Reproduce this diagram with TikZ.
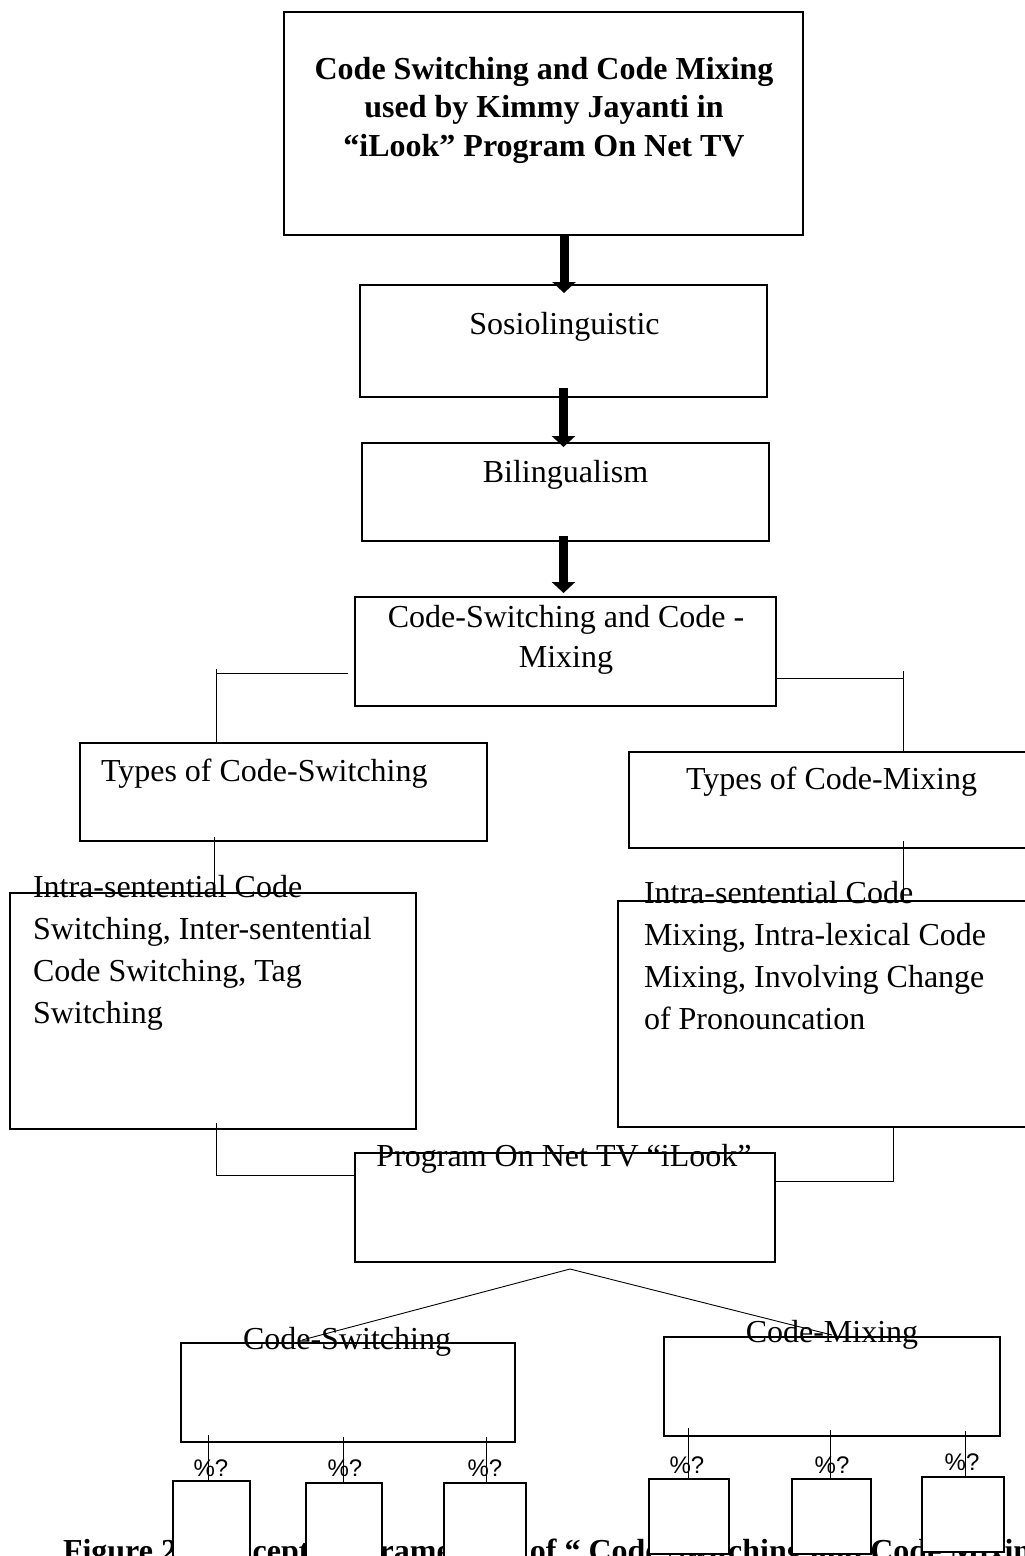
\documentclass[tikz,border=0pt]{standalone}
\usepackage{fontspec}
\setmainfont{Liberation Serif}
\newfontfamily\pctfont{Liberation Sans}
\usetikzlibrary{arrows.meta,calc}
\begin{document}
\begin{tikzpicture}[x=1pt,y=-1pt,
  box/.style={draw,line width=2.4pt,fill=white,inner sep=0pt,outer sep=0pt,rectangle},
  txt/.style={inner sep=0pt,outer sep=0pt,anchor=base,font=\fontsize{32}{38}\selectfont},
  txtw/.style={txt,anchor=base west},
  ttl/.style={inner sep=0pt,outer sep=0pt,anchor=base,font=\fontsize{32}{38}\selectfont\bfseries},
  conn/.style={line width=0.9pt},
  bigarrow/.style={line width=9pt,-{Triangle[width=23pt 0 0,length=11pt 0 0]}},
  pct/.style={inner sep=0pt,outer sep=0pt,anchor=base,font=\pctfont\fontsize{24}{24}\selectfont}
]
\useasboundingbox (0,0) rectangle (1025,1556);
\clip (0,0) rectangle (1025,1556);
\fill[white] (0,0) rectangle (1025,1556);

% caption (partly hidden, cut at the bottom edge as in the reference)
\node[ttl,anchor=base west] (caption) at (63,1561) {Figure 2. Conceptual Framework of “ Code Switching and Code Mixing};

% boxes
\node[box,minimum width=519,minimum height=223] (title) at (543.5,123.5) {};
\node[box,minimum width=407,minimum height=112] (sosio) at (563.5,341) {};
\node[box,minimum width=407,minimum height=98] (bil) at (565.5,492) {};
\node[box,minimum width=421,minimum height=109] (ccm) at (565.5,651.5) {};
\node[box,minimum width=407,minimum height=98] (tcs) at (283.5,792) {};
\node[box,minimum width=406,minimum height=96] (tcm) at (832,800) {};
\node[box,minimum width=406,minimum height=236] (lcs) at (213,1011) {};
\node[box,minimum width=417,minimum height=226] (lcm) at (826.5,1014) {};
\node[box,minimum width=420,minimum height=109] (prog) at (565,1207.5) {};
\node[box,minimum width=334,minimum height=99] (cs) at (348,1392.5) {};
\node[box,minimum width=336,minimum height=99] (cm) at (832,1386.5) {};
\node[box,minimum width=77,minimum height=89] (s1) at (211.5,1525.5) {};
\node[box,minimum width=76,minimum height=87] (s2) at (344,1526.5) {};
\node[box,minimum width=82,minimum height=87] (s3) at (485,1526.5) {};
\node[box,minimum width=80,minimum height=75] (s4) at (689,1516.5) {};
\node[box,minimum width=79,minimum height=75] (s5) at (831.5,1516.5) {};
\node[box,minimum width=82,minimum height=75] (s6) at (963,1514.5) {};

% texts
\node[ttl] (t1) at (544,79) {Code Switching and Code Mixing};
\node[ttl] (t2) at (544,117) {used by Kimmy Jayanti in};
\node[ttl] (t3) at (544,156) {“iLook” Program On Net TV};
\node[txt] (sosiotxt) at (564.5,334) {Sosiolinguistic};
\node[txt] (biltxt) at (565.5,482) {Bilingualism};
\node[txt] (ccm1) at (566,627) {Code-Switching and Code -};
\node[txt] (ccm2) at (566,667) {Mixing};
\node[txtw] (tcstxt) at (101,781) {Types of Code-Switching};
\node[txtw] (tcmtxt) at (686,789) {Types of Code-Mixing};
\node[txtw] (l1) at (33,897) {Intra-sentential Code};
\node[txtw] (l2) at (33,939) {Switching, Inter-sentential};
\node[txtw] (l3) at (33,981) {Code Switching, Tag};
\node[txtw] (l4) at (33,1023) {Switching};
\node[txtw] (r1) at (644,903) {Intra-sentential Code};
\node[txtw] (r2) at (644,945) {Mixing, Intra-lexical Code};
\node[txtw] (r3) at (644,987) {Mixing, Involving Change};
\node[txtw] (r4) at (644,1029) {of Pronouncation};
\node[txt] (progtxt) at (564,1166) {Program On Net TV “iLook”};
\node[txt] (cstxt) at (347,1349) {Code-Switching};
\node[txt] (cmtxt) at (832,1342) {Code-Mixing};
\node[pct] (p1) at (211,1476) {\%?};
\node[pct] (p2) at (345,1476) {\%?};
\node[pct] (p3) at (485,1476) {\%?};
\node[pct] (p4) at (687,1473) {\%?};
\node[pct] (p5) at (832,1473) {\%?};
\node[pct] (p6) at (962,1470) {\%?};

% big arrows
\draw[bigarrow] ($(title.south)+(20.5,0)$) -- ($(sosio.north)+(0.5,8)$);
\draw[bigarrow] ($(sosio.south)+(0,-9)$) -- ($(bil.north)+(-2,4)$);
\draw[bigarrow] ($(bil.south)+(-2,-5)$) -- ($(ccm.north)+(-2,-4)$);

% connectors
\coordinate (a1) at ($(ccm.west)+(-7,21.5)$);
\coordinate (a2) at ($(tcs.north)+(-67.5,-74)$);
\draw[conn] (a1) -- (a1 -| a2);
\draw[conn] (a2) -- (a2 |- tcs.north);

\coordinate (b1) at ($(ccm.east)+(0,26.5)$);
\coordinate (b2) at ($(tcm.north)+(71,-81)$);
\draw[conn] (b1) -- (b1 -| b2);
\draw[conn] (b2) -- (b2 |- tcm.north);

\coordinate (c1) at ($(tcs.south)+(-69.5,-4)$);
\draw[conn] (c1) -- (c1 |- lcs.north);
\coordinate (d1) at ($(tcm.south)+(71,-7)$);
\draw[conn] (d1) -- (d1 |- lcm.north);

\coordinate (e1) at ($(lcs.south)+(3,-6)$);
\coordinate (e2) at ($(prog.west)+(-1,-32.5)$);
\draw[conn] (e1) |- (e2);
\coordinate (f1) at ($(lcm.south)+(66.5,1)$);
\coordinate (f2) at ($(prog.east)+(1,-26.5)$);
\draw[conn] (f1) |- (f2);

\coordinate (apex) at ($(prog.south)+(5,7)$);
\draw[conn] (apex) -- ($(cs.north)+(-46,-3)$);
\draw[conn] (apex) -- ($(cm.north)+(0,-2)$);

\coordinate (g1) at ($(cs.south)+(-140,-7)$);
\coordinate (g2) at ($(cs.south)+(-5,-5)$);
\coordinate (g3) at ($(cs.south)+(138,-5)$);
\draw[conn] (g1) -- (g1 |- s1.north);
\draw[conn] (g2) -- (g2 |- s2.north);
\draw[conn] (g3) -- (g3 |- s3.north);
\coordinate (h1) at ($(cm.south)+(-144,-8)$);
\coordinate (h2) at ($(cm.south)+(-2,-6)$);
\coordinate (h3) at ($(cm.south)+(133,-5)$);
\draw[conn] (h1) -- (h1 |- s4.north);
\draw[conn] (h2) -- (h2 |- s5.north);
\draw[conn] (h3) -- (h3 |- s6.north);
\end{tikzpicture}
\end{document}
